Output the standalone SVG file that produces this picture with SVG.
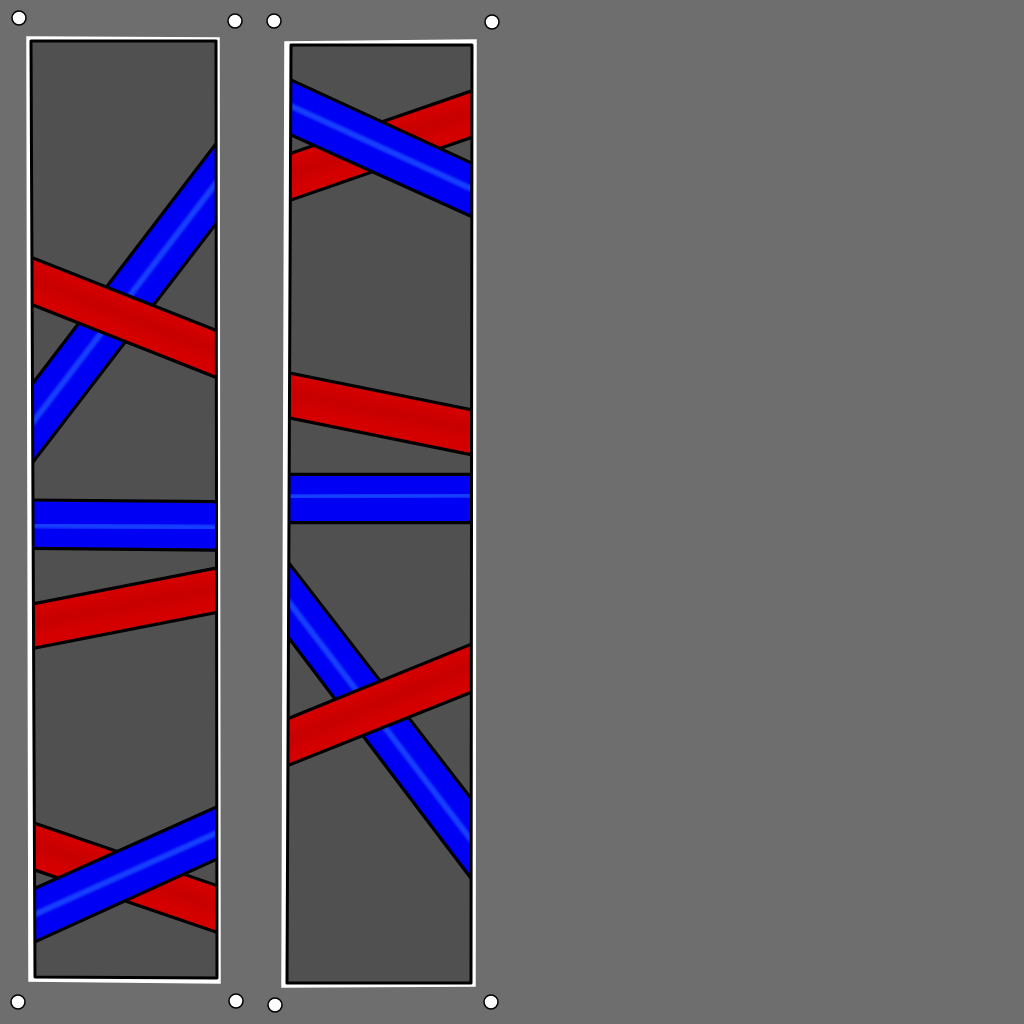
<svg xmlns="http://www.w3.org/2000/svg" width="1024" height="1024" viewBox="0 0 1024 1024">
  <defs>
    <style>
      .frame { fill: #ffffff; stroke: #ffffff; stroke-width: 1.5; }
      .panel { fill: #505050; stroke: none; }
      .panel-edge { fill: none; stroke: #000000; stroke-width: 3; stroke-linejoin: round; }
      .blue { fill: #0000f4; }
      .red { fill: #d40000; }
      .edge { fill: none; stroke: #000000; stroke-width: 3.2; }
      .bhl { fill: none; stroke: #1e50ff; stroke-width: 6; opacity: 0.8; filter: url(#soft); }
      .rdk { fill: none; stroke: #b00000; stroke-width: 16; opacity: 0.3; filter: url(#soft2); }
      .pin { fill: #ffffff; stroke: #000000; stroke-width: 1.5; }
    </style>
    <filter id="soft" x="-10%" y="-10%" width="120%" height="120%"><feGaussianBlur stdDeviation="1.2"/></filter>
    <filter id="soft2" x="-10%" y="-50%" width="120%" height="200%"><feGaussianBlur stdDeviation="3"/></filter>
    <clipPath id="clipL"><polygon points="31,41 216,41 217,978 35,977"/></clipPath>
    <clipPath id="clipR"><polygon points="291,45 472,45 471,983 287,983"/></clipPath>
  </defs>

  <rect x="0" y="0" width="1024" height="1024" fill="#6e6e6e"/>

  <g id="panel-left">
    <polygon class="frame" points="27,37 219,38 220,983 29,981"/>
    <polygon class="panel" points="31,41 216,41 217,978 35,977"/>
    <g clip-path="url(#clipL)">
      <polygon class="blue" points="230,125.4 20,400 20,479 230,205.5"/>
      <line class="bhl" x1="230" y1="165" x2="20" y2="439"/>
      <line class="edge" x1="230" y1="125.4" x2="20" y2="400"/>
      <line class="edge" x1="230" y1="205.5" x2="20" y2="479"/>
      <polygon class="red" points="20,252.9 230,335.9 230,382.9 20,299.9"/>
      <line class="rdk" x1="20" y1="274" x2="230" y2="357"/>
      <line class="edge" x1="20" y1="252.9" x2="230" y2="335.9"/>
      <line class="edge" x1="20" y1="299.9" x2="230" y2="382.9"/>
      <polygon class="blue" points="20,499.9 230,501.8 230,550.2 20,548.2"/>
      <line class="bhl" x1="20" y1="525" x2="230" y2="528"/>
      <line class="edge" x1="20" y1="499.9" x2="230" y2="501.8"/>
      <line class="edge" x1="20" y1="548.2" x2="230" y2="550.2"/>
      <polygon class="red" points="20,606.5 230,565.4 230,609.8 20,650.9"/>
      <line class="rdk" x1="20" y1="626" x2="230" y2="585"/>
      <line class="edge" x1="20" y1="606.5" x2="230" y2="565.4"/>
      <line class="edge" x1="20" y1="650.9" x2="230" y2="609.8"/>
      <polygon class="red" points="20,818.2 230,890.1 230,936.8 20,864.9"/>
      <line class="rdk" x1="20" y1="839" x2="230" y2="911"/>
      <line class="edge" x1="20" y1="818.2" x2="230" y2="890.1"/>
      <line class="edge" x1="20" y1="864.9" x2="230" y2="936.8"/>
      <polygon class="blue" points="20,895 230,801 230,853.2 20,948.5"/>
      <line class="bhl" x1="20" y1="921" x2="230" y2="827"/>
      <line class="edge" x1="20" y1="895" x2="230" y2="801"/>
      <line class="edge" x1="20" y1="948.5" x2="230" y2="853.2"/>
    </g>
    <polygon class="panel-edge" points="31,41 216,41 217,978 35,977"/>
  </g>

  <g id="panel-right">
    <polygon class="frame" points="285,42 476,40 475,986 282,987"/>
    <polygon class="panel" points="291,45 472,45 471,983 287,983"/>
    <g clip-path="url(#clipR)">
      <polygon class="red" points="280,157.1 485,86.2 485,132.8 280,203.8"/>
      <line class="rdk" x1="280" y1="178" x2="485" y2="107"/>
      <line class="edge" x1="280" y1="157.1" x2="485" y2="86.2"/>
      <line class="edge" x1="280" y1="203.8" x2="485" y2="132.8"/>
      <polygon class="blue" points="280,74.9 485,169.3 485,222.7 280,129.9"/>
      <line class="bhl" x1="280" y1="101" x2="485" y2="195"/>
      <line class="edge" x1="280" y1="74.9" x2="485" y2="169.3"/>
      <line class="edge" x1="280" y1="129.9" x2="485" y2="222.7"/>
      <polygon class="red" points="280,371.1 485,412.6 485,457.6 280,416.1"/>
      <line class="rdk" x1="280" y1="391" x2="485" y2="432"/>
      <line class="edge" x1="280" y1="371.1" x2="485" y2="412.6"/>
      <line class="edge" x1="280" y1="416.1" x2="485" y2="457.6"/>
      <polygon class="blue" points="280,474.3 485,474.3 485,522.7 280,522.7"/>
      <line class="bhl" x1="280" y1="497" x2="485" y2="495"/>
      <line class="edge" x1="280" y1="474.3" x2="485" y2="474.3"/>
      <line class="edge" x1="280" y1="522.7" x2="485" y2="522.7"/>
      <polygon class="blue" points="278,549.1 485,816.4 485,896.8 278,623.8"/>
      <line class="bhl" x1="278" y1="588" x2="485" y2="858"/>
      <line class="edge" x1="278" y1="549.1" x2="485" y2="816.4"/>
      <line class="edge" x1="278" y1="623.8" x2="485" y2="896.8"/>
      <polygon class="red" points="278,722.7 485,638.6 485,686.9 278,769.4"/>
      <line class="rdk" x1="278" y1="744" x2="485" y2="660"/>
      <line class="edge" x1="278" y1="722.7" x2="485" y2="638.6"/>
      <line class="edge" x1="278" y1="769.4" x2="485" y2="686.9"/>
    </g>
    <polygon class="panel-edge" points="291,45 472,45 471,983 287,983"/>
  </g>

  <g id="pins">
    <circle class="pin" cx="19" cy="18" r="7"/>
    <circle class="pin" cx="235" cy="21" r="7"/>
    <circle class="pin" cx="18" cy="1002" r="7"/>
    <circle class="pin" cx="236" cy="1001" r="7"/>
    <circle class="pin" cx="274" cy="21" r="7"/>
    <circle class="pin" cx="492" cy="22" r="7"/>
    <circle class="pin" cx="275" cy="1005" r="7"/>
    <circle class="pin" cx="491" cy="1002" r="7"/>
  </g>
</svg>
